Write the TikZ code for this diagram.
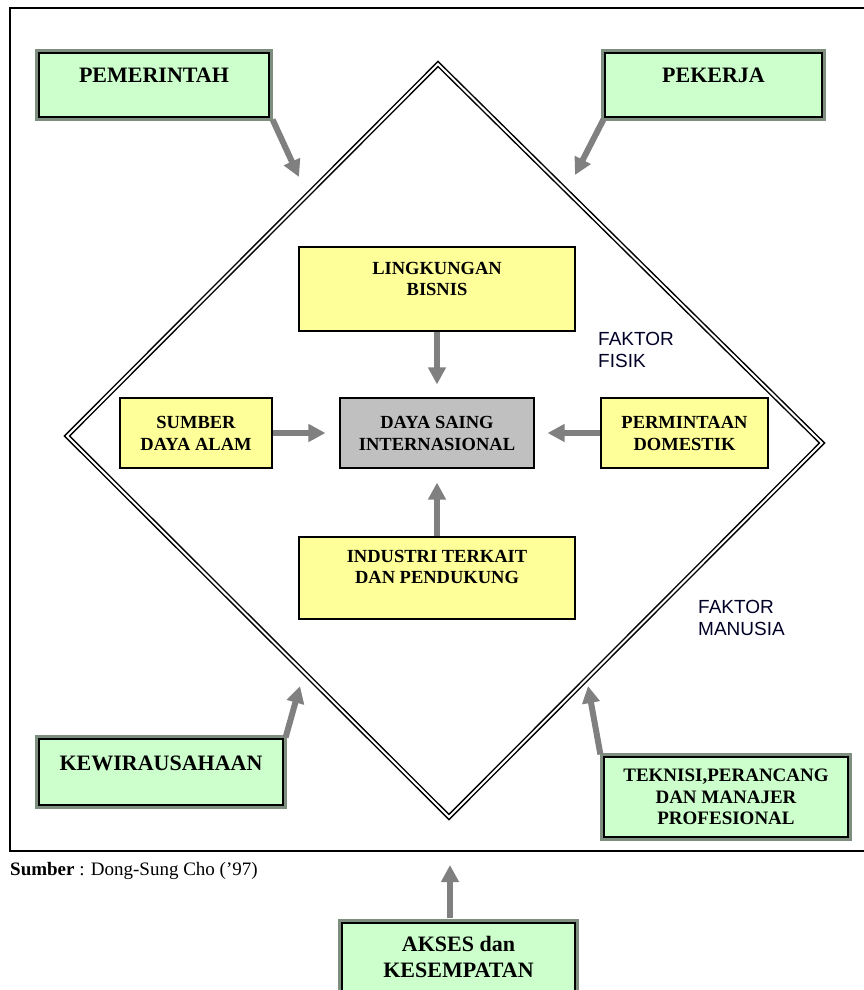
\documentclass[tikz,border=0pt]{standalone}
\usepackage{fontspec}
\setmainfont{Liberation Serif}
\newfontfamily\arialf{Liberation Sans}
\usetikzlibrary{arrows.meta}
\definecolor{gfill}{HTML}{CCFFCC}
\definecolor{yfill}{HTML}{FFFF99}
\definecolor{dfill}{HTML}{C0C0C0}
\definecolor{gband}{HTML}{7F8F7F}
\definecolor{arrgray}{HTML}{808080}
\tikzset{
  gbox/.style={draw=black, line width=1.2pt, fill=gfill, inner sep=0pt,
    preaction={draw=gband, line width=8pt}},
  ybox/.style={draw=black, line width=1.1pt, fill=yfill, inner sep=0pt},
  dbox/.style={draw=black, line width=1.1pt, fill=dfill, inner sep=0pt},
  otext/.style={font=\fontsize{22}{23}\selectfont\bfseries, align=center, inner sep=0pt},
  itext/.style={font=\fontsize{18.5}{22}\selectfont\bfseries, align=center, inner sep=0pt},
  ftext/.style={font=\fontsize{19}{22}\selectfont\arialf, align=left, inner sep=0pt, text=black!85!blue},
  garrow/.style={draw=arrgray, line width=6pt, -{Triangle[width=17pt,length=17pt]}},
  diam/.style={draw=black, line width=1.5pt, double=white, double distance=2pt, line join=miter},
}
\begin{document}
\begin{tikzpicture}[x=1pt,y=-1pt]
\useasboundingbox (0,0) rectangle (864,990);
\fill[white] (0,0) rectangle (864,990);
% frame
\draw[line width=1.4pt] (880,8) -- (10,8) -- (10,851) -- (880,851);
% diamond
\coordinate (dt) at (438,64);
\coordinate (dl) at (67,436);
\coordinate (dr) at (822,443);
\coordinate (db) at (449,817);
\draw[diam] (dt) -- (dr) -- (db) -- (dl) -- cycle;

% outer green boxes
\node[gbox, minimum width=230pt, minimum height=64pt] (pem) at (154,85) {};
\node[otext, anchor=base] (pemt) at (154,82) {PEMERINTAH};
\node[gbox, minimum width=217pt, minimum height=64pt] (pek) at (713.5,85) {};
\node[otext, anchor=base] (pekt) at (713.5,82) {PEKERJA};
\node[gbox, minimum width=244pt, minimum height=66pt] (kew) at (161,772) {};
\node[otext, anchor=base] (kewt) at (161,770) {KEWIRAUSAHAAN};
\node[gbox, minimum width=244pt, minimum height=80pt,
  font=\fontsize{19}{21.5}\selectfont\bfseries, align=center] (tek) at (726,797)
  {TEKNISI,PERANCANG\\DAN MANAJER\\PROFESIONAL};
\node[gbox, minimum width=233pt, minimum height=100pt] (aks) at (458.5,973) {};
\node[otext, anchor=base, font=\fontsize{22}{26}\selectfont\bfseries] (akst) at (458.5,977) {AKSES dan\\KESEMPATAN};

% inner boxes
\node[ybox, minimum width=276pt, minimum height=84pt] (ling) at (437,289) {};
\node[itext, anchor=base, font=\fontsize{18.5}{21}\selectfont\bfseries] (lingt) at (437,295) {LINGKUNGAN\\BISNIS};
\node[ybox, minimum width=152pt, minimum height=70pt, itext] (sum) at (196,433) {SUMBER\\DAYA ALAM};
\node[dbox, minimum width=194pt, minimum height=70pt, itext] (daya) at (437,433) {DAYA SAING\\INTERNASIONAL};
\node[ybox, minimum width=167pt, minimum height=70pt, itext] (perm) at (684.5,433) {PERMINTAAN\\DOMESTIK};
\node[ybox, minimum width=276pt, minimum height=82pt] (ind) at (437,578) {};
\node[itext, anchor=base, font=\fontsize{18.5}{20.5}\selectfont\bfseries] (indt) at (437,583) {INDUSTRI TERKAIT\\DAN PENDUKUNG};

% labels
\node[ftext, anchor=base west] (fis) at (598,367) {FAKTOR\\FISIK};
\node[ftext, anchor=base west] (man) at (698,635) {FAKTOR\\MANUSIA};
\node[anchor=base west, inner sep=0pt, font=\fontsize{19}{22}\selectfont] (src) at (10,875) {\textbf{Sumber} : Dong-Sung Cho (’97)};

% outer arrows
\coordinate (pemtip) at (299,177);
\coordinate (pektip) at (575,175);
\coordinate (kewtip) at (300,686);
\coordinate (tektip) at (588,686);
\coordinate (akstip) at (450,865);
\draw[garrow] ([xshift=3pt,yshift=-2pt]pem.south east) -- (pemtip);
\draw[garrow] ([xshift=-1pt,yshift=-2pt]pek.south west) -- (pektip);
\draw[garrow] ([xshift=2pt,yshift=1pt]kew.north east) -- (kewtip);
\draw[garrow] ([xshift=-3pt,yshift=2pt]tek.north west) -- (tektip);
\draw[garrow] ([xshift=-8.5pt,yshift=4pt]aks.north) -- (akstip);

% inner arrows
\draw[garrow, shorten >=13pt] (ling.south) -- (daya.north);
\draw[garrow, shorten >=14pt] (sum.east) -- (daya.west);
\draw[garrow, shorten >=13pt] (perm.west) -- (daya.east);
\draw[garrow, shorten >=14pt] (ind.north) -- (daya.south);
\end{tikzpicture}
\end{document}
